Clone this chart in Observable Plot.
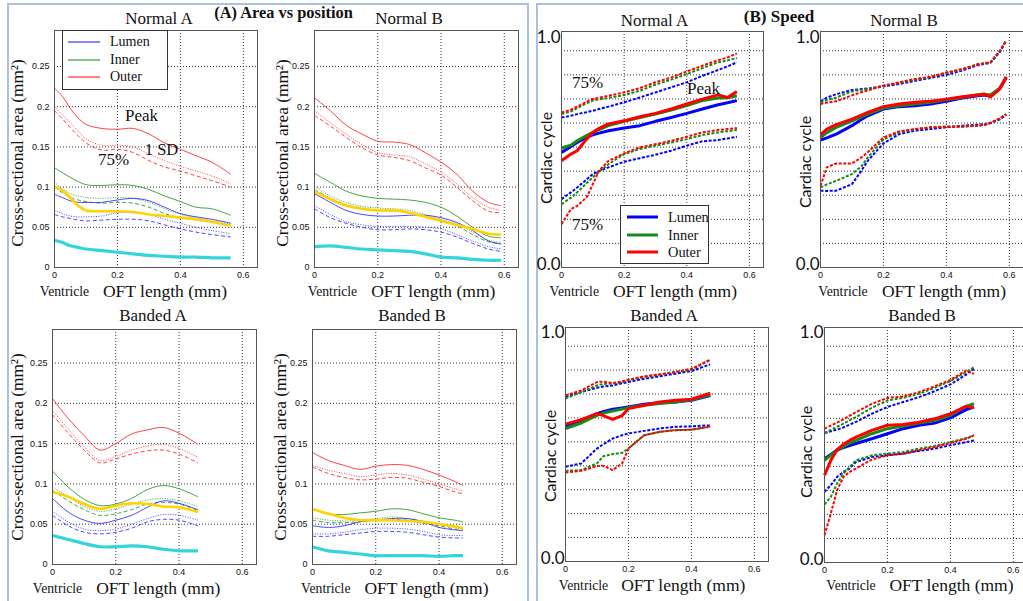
<!DOCTYPE html>
<html><head><meta charset="utf-8">
<script src="https://cdn.jsdelivr.net/npm/d3@7"></script>
<script src="https://cdn.jsdelivr.net/npm/@observablehq/plot@0.6"></script>
<style>
html,body{margin:0;padding:0;background:#fff;}
body{width:1023px;height:601px;position:relative;overflow:hidden;}
.t{position:absolute;white-space:nowrap;transform:translate(-50%,-50%);line-height:1;color:#111;font-family:"Liberation Serif",serif;}
.box{position:absolute;border:2px solid #a9c2de;}
.leg{position:absolute;background:#fff;border:1px solid #333;}
</style></head><body>
<script>
// ---------- tick labels / shared ----------
const xTicks = [0, 0.2, 0.4, 0.6];
const areaYTicks = [0, 0.05, 0.1, 0.15, 0.2, 0.25];
const areaGridY = [0.05, 0.1, 0.15, 0.2, 0.25];
const cycleGridY = [0.1, 0.2, 0.3, 0.4, 0.5, 0.6, 0.7, 0.8, 0.9];
const cycleTickValues = [0, 1];
const cycleTickLabels = ["0.0", "1.0"];
const layers = ["Lumen", "Inner", "Outer"];

// ---------- (A) Area vs position ----------
const areaNormalA_x = [0,0.025,0.05,0.075,0.1,0.15,0.2,0.25,0.3,0.35,0.4,0.45,0.5,0.56];
const areaNormalA = [
 ["Outer","peak",[0.223,0.213,0.198,0.186,0.178,0.173,0.172,0.173,0.166,0.155,0.147,0.139,0.131,0.116]],
 ["Outer","sd",[0.2,0.19,0.18,0.17,0.16,0.152,0.152,0.15,0.141,0.133,0.126,0.12,0.114,0.104]],
 ["Outer","p75",[0.195,0.185,0.174,0.164,0.155,0.146,0.147,0.143,0.133,0.125,0.12,0.114,0.108,0.1]],
 ["Inner","peak",[0.124,0.118,0.112,0.107,0.103,0.102,0.103,0.102,0.097,0.089,0.082,0.075,0.073,0.065]],
 ["Inner","sd",[0.106,0.098,0.092,0.089,0.087,0.086,0.087,0.086,0.081,0.073,0.066,0.062,0.058,0.054]],
 ["Inner","p75",[0.1,0.093,0.087,0.084,0.082,0.08,0.081,0.08,0.075,0.067,0.062,0.059,0.056,0.052]],
 ["Lumen","peak",[0.091,0.087,0.083,0.081,0.081,0.081,0.084,0.086,0.083,0.075,0.067,0.063,0.06,0.055]],
 ["Lumen","sd",[0.071,0.067,0.064,0.063,0.063,0.064,0.068,0.068,0.066,0.06,0.055,0.05,0.046,0.042]],
 ["Lumen","p75",[0.066,0.063,0.061,0.059,0.058,0.059,0.06,0.06,0.058,0.053,0.048,0.044,0.041,0.038]],
 ["Gold","thick",[0.1,0.096,0.087,0.077,0.071,0.07,0.07,0.069,0.066,0.064,0.062,0.06,0.057,0.052]],
 ["Cyan","thick",[0.034,0.031,0.027,0.025,0.023,0.021,0.019,0.017,0.015,0.014,0.013,0.013,0.012,0.012]]
];
const areaNormalB_x = [0,0.05,0.1,0.15,0.2,0.25,0.3,0.35,0.4,0.45,0.5,0.55,0.59];
const areaNormalB = [
 ["Outer","peak",[0.211,0.195,0.177,0.166,0.157,0.156,0.153,0.143,0.131,0.116,0.095,0.081,0.077]],
 ["Outer","sd",[0.195,0.18,0.166,0.153,0.143,0.14,0.138,0.129,0.119,0.104,0.087,0.075,0.071]],
 ["Outer","p75",[0.189,0.176,0.162,0.149,0.14,0.137,0.133,0.124,0.115,0.1,0.083,0.07,0.068]],
 ["Inner","peak",[0.117,0.106,0.095,0.089,0.086,0.085,0.084,0.081,0.075,0.064,0.05,0.039,0.037]],
 ["Inner","sd",[0.101,0.089,0.081,0.076,0.074,0.073,0.071,0.066,0.06,0.054,0.044,0.034,0.031]],
 ["Inner","p75",[0.097,0.086,0.078,0.074,0.071,0.07,0.068,0.064,0.058,0.052,0.041,0.032,0.03]],
 ["Lumen","peak",[0.092,0.081,0.071,0.066,0.064,0.064,0.065,0.065,0.062,0.056,0.046,0.033,0.029]],
 ["Lumen","sd",[0.077,0.066,0.057,0.053,0.051,0.051,0.051,0.05,0.048,0.041,0.033,0.026,0.023]],
 ["Lumen","p75",[0.073,0.062,0.055,0.05,0.047,0.047,0.048,0.047,0.044,0.038,0.03,0.023,0.02]],
 ["Gold","thick",[0.095,0.085,0.077,0.073,0.071,0.071,0.068,0.063,0.058,0.053,0.048,0.042,0.041]],
 ["Cyan","thick",[0.026,0.027,0.025,0.023,0.022,0.021,0.02,0.017,0.013,0.012,0.01,0.009,0.009]]
];
const areaBandedA_x = [0,0.05,0.1,0.15,0.2,0.25,0.3,0.35,0.4,0.46];
const areaBandedA = [
 ["Outer","peak",[0.206,0.181,0.16,0.142,0.15,0.162,0.167,0.17,0.163,0.149]],
 ["Outer","sd",[0.191,0.168,0.146,0.129,0.134,0.142,0.147,0.149,0.144,0.133]],
 ["Outer","p75",[0.186,0.163,0.142,0.126,0.131,0.137,0.141,0.142,0.137,0.126]],
 ["Inner","peak",[0.116,0.096,0.081,0.073,0.075,0.082,0.093,0.098,0.094,0.084]],
 ["Inner","sd",[0.096,0.084,0.072,0.066,0.069,0.075,0.08,0.082,0.079,0.072]],
 ["Inner","p75",[0.092,0.079,0.068,0.061,0.063,0.068,0.075,0.077,0.075,0.067]],
 ["Lumen","peak",[0.082,0.065,0.055,0.051,0.055,0.061,0.071,0.079,0.076,0.068]],
 ["Lumen","sd",[0.066,0.053,0.044,0.042,0.044,0.05,0.057,0.062,0.061,0.055]],
 ["Lumen","p75",[0.061,0.048,0.04,0.038,0.04,0.045,0.053,0.056,0.055,0.048]],
 ["Gold","thick",[0.09,0.084,0.075,0.069,0.073,0.076,0.075,0.072,0.071,0.065]],
 ["Cyan","thick",[0.036,0.031,0.026,0.022,0.022,0.023,0.022,0.019,0.017,0.017]]
];
const areaBandedB_x = [0,0.05,0.1,0.15,0.2,0.25,0.3,0.35,0.4,0.45,0.476];
const areaBandedB = [
 ["Outer","peak",[0.139,0.129,0.123,0.118,0.122,0.124,0.123,0.118,0.111,0.103,0.098]],
 ["Outer","sd",[0.123,0.117,0.113,0.109,0.111,0.113,0.111,0.106,0.1,0.094,0.091]],
 ["Outer","p75",[0.121,0.113,0.108,0.105,0.106,0.108,0.107,0.102,0.097,0.09,0.088]],
 ["Inner","peak",[0.069,0.063,0.062,0.064,0.066,0.069,0.068,0.063,0.058,0.055,0.053]],
 ["Inner","sd",[0.058,0.055,0.054,0.055,0.057,0.059,0.057,0.054,0.05,0.046,0.045]],
 ["Inner","p75",[0.055,0.052,0.052,0.053,0.055,0.056,0.055,0.051,0.048,0.044,0.043]],
 ["Lumen","peak",[0.048,0.046,0.048,0.053,0.055,0.057,0.057,0.053,0.046,0.043,0.042]],
 ["Lumen","sd",[0.038,0.038,0.04,0.043,0.045,0.045,0.044,0.041,0.037,0.036,0.036]],
 ["Lumen","p75",[0.035,0.035,0.037,0.039,0.041,0.041,0.04,0.037,0.034,0.033,0.033]],
 ["Gold","thick",[0.069,0.063,0.058,0.055,0.055,0.055,0.054,0.053,0.05,0.047,0.045]],
 ["Cyan","thick",[0.022,0.017,0.015,0.013,0.011,0.011,0.011,0.011,0.01,0.011,0.011]]
];

// ---------- (B) Speed: cardiac cycle timing ----------
const cycleNormalA_x = [0,0.03,0.05,0.08,0.1,0.12,0.15,0.2,0.25,0.3,0.35,0.4,0.45,0.5,0.53,0.56];
const cycleNormalA = [
 ["Lumen","hi",[0.623,0.63,0.637,0.645,0.651,0.658,0.668,0.686,0.706,0.727,0.748,0.769,0.796,0.82,0.835,0.852]],
 ["Inner","hi",[0.637,0.648,0.662,0.682,0.693,0.698,0.704,0.716,0.734,0.759,0.78,0.803,0.828,0.852,0.86,0.87]],
 ["Outer","hi",[0.644,0.655,0.668,0.688,0.7,0.705,0.713,0.727,0.745,0.769,0.789,0.814,0.838,0.861,0.872,0.889]],
 ["Lumen","lo",[0.284,0.312,0.332,0.365,0.388,0.4,0.416,0.439,0.454,0.468,0.485,0.506,0.524,0.529,0.536,0.543]],
 ["Inner","lo",[0.263,0.29,0.312,0.35,0.374,0.398,0.429,0.471,0.492,0.506,0.519,0.533,0.55,0.561,0.566,0.571]],
 ["Outer","lo",[0.18,0.242,0.256,0.291,0.346,0.402,0.443,0.474,0.499,0.512,0.526,0.543,0.561,0.571,0.575,0.579]],
 ["Lumen","peak",[0.478,0.502,0.519,0.54,0.551,0.558,0.568,0.579,0.589,0.607,0.623,0.64,0.658,0.676,0.684,0.693]],
 ["Inner","peak",[0.496,0.508,0.526,0.548,0.561,0.573,0.589,0.607,0.623,0.637,0.654,0.672,0.693,0.704,0.705,0.713]],
 ["Outer","peak",[0.443,0.471,0.485,0.533,0.561,0.578,0.596,0.609,0.626,0.64,0.658,0.679,0.699,0.717,0.706,0.731]]
];
const cycleNormalB_x = [0,0.02,0.05,0.1,0.13,0.15,0.2,0.25,0.3,0.35,0.4,0.45,0.5,0.52,0.54,0.57,0.59];
const cycleNormalB = [
 ["Lumen","hi",[0.69,0.705,0.72,0.737,0.741,0.743,0.752,0.762,0.775,0.787,0.8,0.818,0.84,0.845,0.85,0.895,0.942]],
 ["Inner","hi",[0.686,0.695,0.706,0.731,0.738,0.741,0.755,0.766,0.78,0.79,0.808,0.822,0.845,0.848,0.852,0.9,0.942]],
 ["Outer","hi",[0.679,0.685,0.69,0.715,0.728,0.735,0.755,0.769,0.783,0.792,0.81,0.824,0.843,0.848,0.852,0.9,0.942]],
 ["Lumen","lo",[0.319,0.318,0.319,0.346,0.402,0.443,0.515,0.554,0.568,0.575,0.582,0.589,0.593,0.595,0.6,0.615,0.634]],
 ["Inner","lo",[0.332,0.345,0.36,0.388,0.42,0.457,0.532,0.561,0.575,0.582,0.586,0.586,0.589,0.592,0.6,0.618,0.637]],
 ["Outer","lo",[0.339,0.416,0.432,0.432,0.457,0.478,0.54,0.565,0.575,0.582,0.584,0.584,0.589,0.591,0.6,0.62,0.637]],
 ["Lumen","peak",[0.529,0.538,0.554,0.589,0.615,0.63,0.658,0.668,0.672,0.679,0.69,0.704,0.713,0.716,0.712,0.745,0.787]],
 ["Inner","peak",[0.54,0.56,0.582,0.609,0.626,0.637,0.662,0.672,0.679,0.686,0.697,0.706,0.717,0.72,0.716,0.745,0.789]],
 ["Outer","peak",[0.551,0.575,0.593,0.616,0.633,0.644,0.668,0.679,0.686,0.69,0.699,0.709,0.716,0.72,0.709,0.741,0.792]]
];
const cycleBandedA_x = [0,0.05,0.1,0.12,0.15,0.18,0.2,0.25,0.3,0.35,0.4,0.46];
const cycleBandedA = [
 ["Lumen","hi",[0.688,0.708,0.726,0.731,0.736,0.745,0.75,0.764,0.774,0.785,0.796,0.824]],
 ["Inner","hi",[0.681,0.708,0.736,0.742,0.743,0.75,0.757,0.771,0.782,0.792,0.801,0.843]],
 ["Outer","hi",[0.694,0.715,0.75,0.752,0.746,0.752,0.76,0.774,0.782,0.792,0.806,0.843]],
 ["Lumen","lo",[0.396,0.41,0.472,0.49,0.514,0.528,0.535,0.546,0.556,0.563,0.565,0.569]],
 ["Inner","lo",[0.379,0.382,0.41,0.44,0.449,0.454,0.472,0.528,0.542,0.549,0.551,0.563]],
 ["Outer","lo",[0.372,0.379,0.399,0.4,0.382,0.41,0.472,0.528,0.542,0.549,0.551,0.565]],
 ["Lumen","peak",[0.565,0.59,0.618,0.626,0.636,0.642,0.646,0.657,0.663,0.667,0.674,0.694]],
 ["Inner","peak",[0.556,0.579,0.611,0.62,0.629,0.637,0.643,0.653,0.66,0.667,0.676,0.697]],
 ["Outer","peak",[0.574,0.593,0.618,0.61,0.594,0.61,0.639,0.653,0.667,0.674,0.678,0.704]]
];
const cycleBandedB_x = [0,0.02,0.04,0.06,0.08,0.1,0.15,0.2,0.25,0.3,0.35,0.4,0.45,0.475];
const cycleBandedB = [
 ["Lumen","hi",[0.539,0.546,0.553,0.562,0.574,0.585,0.619,0.647,0.668,0.688,0.713,0.741,0.782,0.806]],
 ["Inner","hi",[0.539,0.552,0.565,0.578,0.592,0.605,0.644,0.674,0.685,0.702,0.727,0.755,0.792,0.813]],
 ["Outer","hi",[0.557,0.57,0.582,0.596,0.611,0.626,0.66,0.685,0.691,0.709,0.733,0.76,0.799,0.785]],
 ["Lumen","lo",[0.294,0.322,0.356,0.377,0.391,0.418,0.439,0.446,0.453,0.464,0.474,0.488,0.501,0.508]],
 ["Inner","lo",[0.242,0.273,0.329,0.37,0.398,0.425,0.446,0.453,0.46,0.474,0.485,0.501,0.518,0.529]],
 ["Outer","lo",[0.114,0.204,0.301,0.356,0.377,0.391,0.428,0.446,0.453,0.467,0.481,0.497,0.515,0.529]],
 ["Lumen","peak",[0.432,0.45,0.468,0.478,0.487,0.495,0.515,0.536,0.557,0.571,0.58,0.602,0.636,0.647]],
 ["Inner","peak",[0.425,0.447,0.466,0.483,0.497,0.508,0.536,0.557,0.568,0.58,0.591,0.612,0.65,0.661]],
 ["Outer","peak",[0.363,0.425,0.47,0.492,0.508,0.522,0.55,0.571,0.574,0.584,0.598,0.619,0.65,0.644]]
];

// ---------- styles ----------
const colorA = {Lumen:"#3535ff", Inner:"#2f9a2f", Outer:"#ff2d2d", Gold:"#ffd200", Cyan:"#33d4dc"};
const colorB = {Lumen:"#0000ff", Inner:"#168c16", Outer:"#ff0000"};
const styleA = {peak:{w:1,d:null}, sd:{w:1,d:"1,1.5"}, p75:{w:1,d:"4,2.5"}};
const styleB = {peak:{w:3,d:null}, hi:{w:2,d:"3,1.6"}, lo:{w:2,d:"3,1.6"}};

const ML = 44, MR = 6, MT = 6, MB = 22;

function place(svg, frame) {
  svg.style.position = "absolute";
  svg.style.left = (frame.l - ML) + "px";
  svg.style.top = (frame.t - MT) + "px";
  svg.style.overflow = "visible";
  svg.style.maxWidth = "none";
  document.body.appendChild(svg);
}

function gridMarks(gy) {
  return [
    Plot.ruleX(xTicks.slice(1), {stroke:"#111", strokeOpacity:0.85, strokeDasharray:"1,2"}),
    Plot.ruleY(gy, {stroke:"#111", strokeOpacity:0.85, strokeDasharray:"1,2"})
  ];
}

function areaPlot(frame, xs, series, yMax) {
  const lines = series.map(([layer, stat, vals]) => {
    const pts = xs.map((x, i) => ({x, y: vals[i]}));
    const thick = stat === "thick";
    const st = thick ? {w: layer === "Cyan" ? 3.2 : 2.6, d: null} : styleA[stat];
    return Plot.line(pts, {x:"x", y:"y", stroke: colorA[layer], strokeWidth: st.w,
      strokeDasharray: st.d, strokeLinecap: "butt", curve:"catmull-rom", strokeOpacity: thick ? 1 : 0.9});
  });
  const svg = Plot.plot({
    width: frame.w + ML + MR, height: frame.h + MT + MB,
    marginLeft: ML, marginRight: MR, marginTop: MT, marginBottom: MB,
    style: {fontSize:"9px", fontFamily:"Liberation Sans, sans-serif", background:"transparent", color:"#111"},
    x: {domain:[0, 0.645], ticks: xTicks, tickFormat: d => String(d), tickSize:0, tickPadding:4, label:null},
    y: {domain:[0, yMax], ticks: areaYTicks, tickFormat: d => String(d), tickSize:0, tickPadding:5, label:null},
    marks: [...gridMarks(areaGridY), ...lines, Plot.frame({stroke:"#555"})]
  });
  place(svg, frame);
}

function cyclePlot(frame, xs, series, yMax) {
  const lines = series.map(([layer, stat, vals]) => {
    const pts = xs.map((x, i) => ({x, y: vals[i]}));
    const st = styleB[stat];
    return Plot.line(pts, {x:"x", y:"y", stroke: colorB[layer], strokeWidth: st.w,
      strokeDasharray: st.d, strokeLinecap: "butt", curve:"linear"});
  });
  const svg = Plot.plot({
    width: frame.w + ML + MR, height: frame.h + MT + MB,
    marginLeft: ML, marginRight: MR, marginTop: MT, marginBottom: MB,
    style: {fontSize:"9px", fontFamily:"Liberation Sans, sans-serif", background:"transparent", color:"#111"},
    x: {domain:[0, 0.645], ticks: xTicks, tickFormat: d => String(d), tickSize:0, tickPadding:4, label:null},
    y: {domain:[0, yMax], axis:null},
    marks: [
      ...gridMarks(cycleGridY), ...lines, Plot.frame({stroke:"#555"}),
      Plot.text([cycleTickValues[0]], {y: d => d, text: () => cycleTickLabels[0], frameAnchor:"left",
        textAnchor:"end", dx:-1, dy:-3, fontSize:17, fontFamily:"Lato, sans-serif", fill:"#111"}),
      Plot.text([cycleTickValues[1]], {y: d => d, text: () => cycleTickLabels[1], frameAnchor:"left",
        textAnchor:"end", lineAnchor:"top", dx:-1, dy:4, fontSize:17, fontFamily:"Lato, sans-serif", fill:"#111"})
    ]
  });
  place(svg, frame);
}

function label(text, cx, cy, css) {
  const el = document.createElement("div");
  el.className = "t";
  el.textContent = text;
  el.style.left = cx + "px";
  el.style.top = cy + "px";
  Object.assign(el.style, css || {});
  document.body.appendChild(el);
  return el;
}

// panel boxes
for (const [l, t, w, h] of [[7, 3, 518, 620], [536, 3, 500, 620]]) {
  const b = document.createElement("div");
  b.className = "box";
  Object.assign(b.style, {left:l+"px", top:t+"px", width:w+"px", height:h+"px"});
  document.body.appendChild(b);
}

// plots
areaPlot({l:54, t:30, w:203, h:237}, areaNormalA_x, areaNormalA, 0.2948);
areaPlot({l:314, t:30, w:204, h:237}, areaNormalB_x, areaNormalB, 0.2948);
areaPlot({l:52, t:329, w:204, h:235}, areaBandedA_x, areaBandedA, 0.2916);
areaPlot({l:312, t:329, w:204, h:235}, areaBandedB_x, areaBandedB, 0.2916);
cyclePlot({l:561, t:31, w:202, h:236}, cycleNormalA_x, cycleNormalA, 0.98);
cyclePlot({l:820, t:31, w:203, h:236}, cycleNormalB_x, cycleNormalB, 0.98);
cyclePlot({l:565, t:327, w:203, h:234}, cycleBandedA_x, cycleBandedA, 0.978);
cyclePlot({l:824, t:327, w:203, h:235}, cycleBandedB_x, cycleBandedB, 0.978);

// section titles
label("(A) Area vs position", 283.5, 13, {fontWeight:"bold", fontSize:"16.4px"});
label("(B) Speed", 779, 16, {fontWeight:"bold", fontSize:"17px"});

// panel titles
const titles = [["Normal A",159,18],["Normal B",409,18],["Banded A",153,315],["Banded B",412,315],
                ["Normal A",654.5,20],["Normal B",904,20],["Banded A",664,315],["Banded B",922,315]];
for (const [t, x, y] of titles) label(t, x, y, {fontSize:"17px"});

// y labels
const yArea = [[18,153],[283,153],[18,447],[281,447]];
for (const [x, y] of yArea) label("Cross-sectional area (mm²)", x, y, {fontSize:"17.3px", transform:"translate(-50%,-50%) rotate(-90deg)"});
const yCycle = [[546,158],[805,162],[550,456],[806,452]];
for (const [x, y] of yCycle) label("Cardiac cycle", x, y, {fontSize:"16px", fontFamily:"Lato, sans-serif", transform:"translate(-50%,-50%) rotate(-90deg)"});

// x labels
const xLab = [[64.5,165,292],[332.5,433.3,292],[57.5,158.3,589],[325.8,426.5,589],
              [574.3,675,292],[843,944,292],[583.5,683.3,586],[851,951.5,586]];
for (const [vx, ox, y] of xLab) {
  label("Ventricle", vx, y, {fontSize:"13.7px"});
  label("OFT length (mm)", ox, y, {fontSize:"17.5px"});
}

// annotations
label("Peak", 141.5, 115, {fontSize:"17px"});
label("75%", 113.5, 159, {fontSize:"17px"});
label("1 SD", 161.5, 150, {fontSize:"16.5px"});
label("75%", 587.5, 82, {fontSize:"17px"});
label("Peak", 703.5, 88, {fontSize:"17px"});
label("75%", 587.5, 224, {fontSize:"17px"});

// legends
function legend(l, t, w, h, lineX0, lineX1, ys, textX, colors, lw, fs) {
  const d = document.createElement("div");
  d.className = "leg";
  Object.assign(d.style, {left:l+"px", top:t+"px", width:w+"px", height:h+"px"});
  document.body.appendChild(d);
  const ns = "http://www.w3.org/2000/svg";
  const s = document.createElementNS(ns, "svg");
  s.setAttribute("width", 1023); s.setAttribute("height", 601);
  Object.assign(s.style, {position:"absolute", left:"0px", top:"0px", pointerEvents:"none"});
  layers.forEach((name, i) => {
    const ln = document.createElementNS(ns, "line");
    ln.setAttribute("x1", lineX0); ln.setAttribute("x2", lineX1);
    ln.setAttribute("y1", ys[i]); ln.setAttribute("y2", ys[i]);
    ln.setAttribute("stroke", colors[name]); ln.setAttribute("stroke-width", lw);
    s.appendChild(ln);
    const tx = label(name, 0, ys[i], {fontSize: fs + "px", transform:"translate(0,-50%)"});
    tx.style.left = textX + "px";
  });
  document.body.appendChild(s);
}
legend(62, 30, 104, 58, 68, 100, [42, 60, 77], 110, colorA, 1.2, 14);
legend(620, 205, 87, 57, 627, 658, [217, 235, 252], 668, colorB, 3, 14.4);
</script></body></html>
